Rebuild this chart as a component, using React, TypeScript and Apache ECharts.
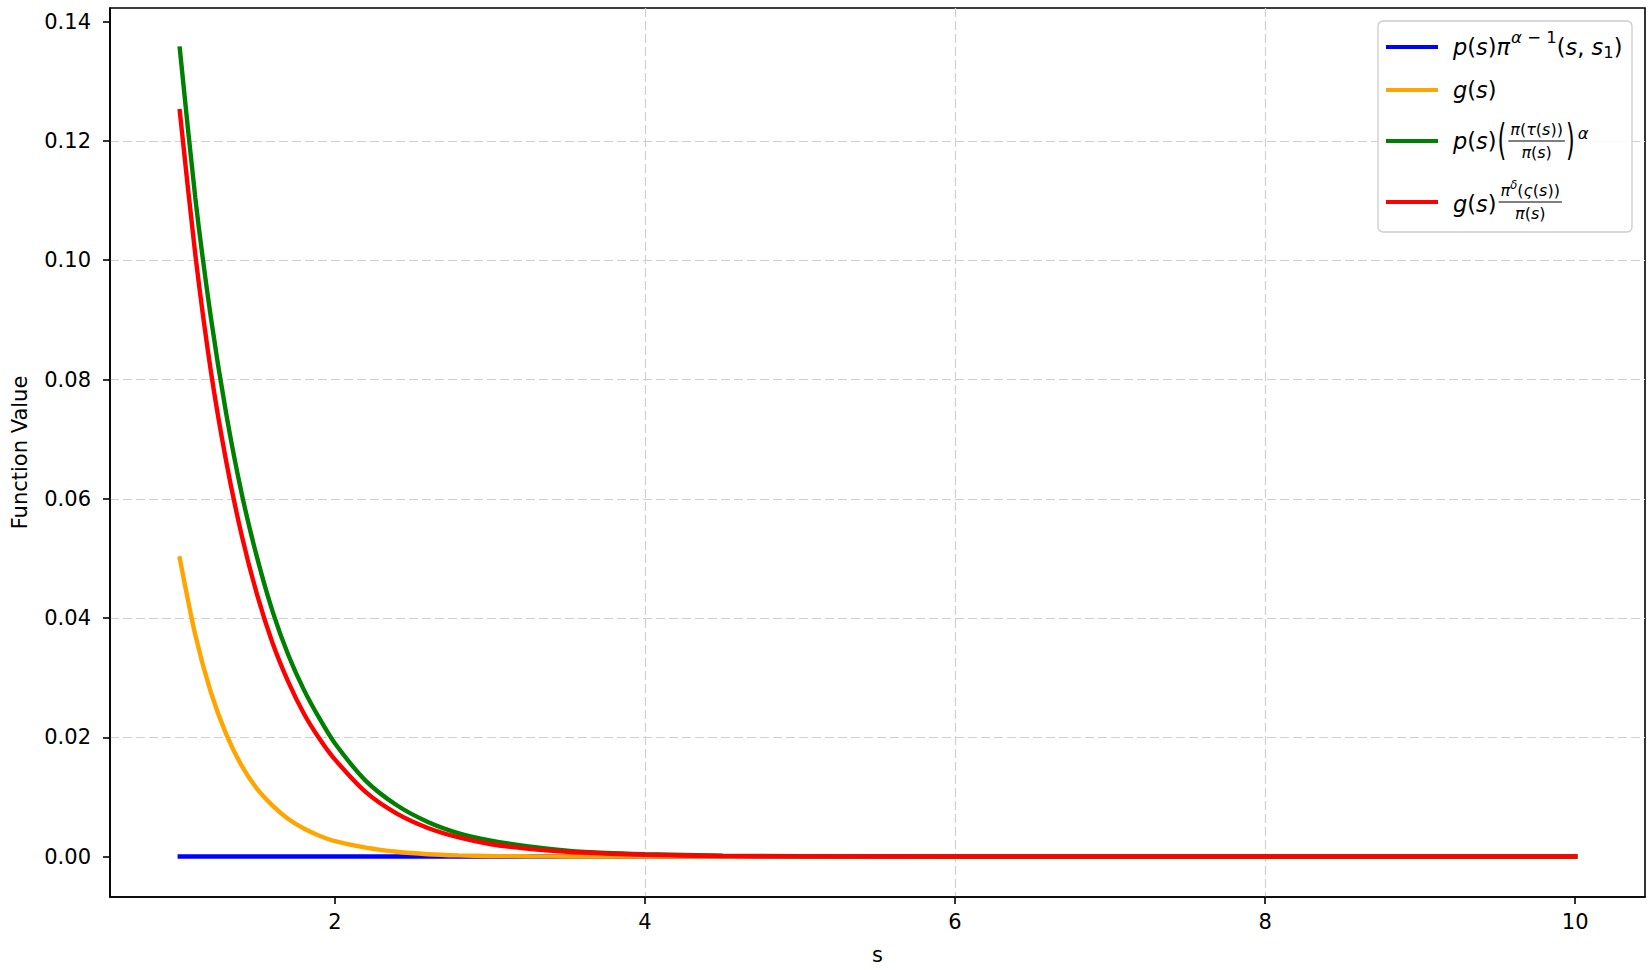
import React, { useEffect, useRef } from 'react';
import * as echarts from 'echarts';

// ---- data ----
const S_VALUES = [1, 1.1, 1.2, 1.3, 1.4, 1.5, 1.6, 1.7, 1.8, 1.9, 2, 2.2, 2.4, 2.6, 2.8, 3, 3.25, 3.5, 3.75, 4, 4.5, 5, 6, 7, 8, 9, 10];
const BLUE_VALUES = [0, 0, 0, 0, 0, 0, 0, 0, 0, 0, 0, 0, 0, 0, 0, 0, 0, 0, 0, 0, 0, 0, 0, 0, 0, 0, 0];
const ORANGE_VALUES = [0.05, 0.0372, 0.0276, 0.0205, 0.0152, 0.0113, 0.0085, 0.0063, 0.0047, 0.0035, 0.0026, 0.0015, 0.0008, 0.0004, 0.0002, 0.0001, 0.00005, 0.00002, 0.00001, 0, 0, 0, 0, 0, 0, 0, 0];
const GREEN_VALUES = [0.1355, 0.1105, 0.0905, 0.0742, 0.0608, 0.05, 0.041, 0.0338, 0.028, 0.0232, 0.019, 0.0127, 0.0086, 0.0058, 0.0039, 0.0027, 0.0017, 0.001, 0.0006, 0.0004, 0.00015, 0.00006, 0.00001, 0, 0, 0, 0];
const RED_VALUES = [0.125, 0.101, 0.0815, 0.0662, 0.0538, 0.0438, 0.0357, 0.0293, 0.024, 0.0198, 0.0163, 0.0108, 0.0072, 0.0048, 0.0032, 0.0021, 0.0013, 0.0008, 0.0005, 0.0003, 0.0001, 0.00004, 0.00001, 0, 0, 0, 0];
const X_TICKS = [2, 4, 6, 8, 10];
const Y_TICKS = [0, 0.02, 0.04, 0.06, 0.08, 0.1, 0.12, 0.14];
const SERIES_NAMES = ['p(s)π^(α−1)(s, s₁)', 'g(s)', 'p(s)(π(τ(s))/π(s))^α', 'g(s)π^δ(ς(s))/π(s)'];
const COLORS = ['#0000ff', '#ffa500', '#008000', '#ff0000'];
const X_NAME = 's';
const Y_NAME = 'Function Value';

const FAMILY = '"DejaVu Sans", sans-serif';
const FS = 21;
const LFS = 22.5;

type Piece = { t: string; s?: number; i?: boolean; dy?: number; dx?: number; sy?: number };

function fontOf(p: Piece) {
  return `${p.i ? 'italic ' : ''}${p.s ?? LFS}px ${FAMILY}`;
}

function runPieces(ctx: CanvasRenderingContext2D, x0: number, yc: number, pieces: Piece[]) {
  let x = x0;
  const els: any[] = [];
  for (const p of pieces) {
    x += p.dx ?? 0;
    ctx.font = fontOf(p);
    const w = ctx.measureText(p.t).width;
    els.push({
      type: 'text',
      x,
      y: yc + (p.dy ?? 0),
      scaleY: p.sy ?? 1,
      z: 101,
      style: { text: p.t, font: fontOf(p), fill: '#000', align: 'left', verticalAlign: 'middle', textAlign: 'left', textVerticalAlign: 'middle' },
    });
    x += w;
  }
  return { els, x };
}

function widthOf(ctx: CanvasRenderingContext2D, pieces: Piece[]) {
  let w = 0;
  for (const p of pieces) {
    ctx.font = fontOf(p);
    w += ctx.measureText(p.t).width + (p.dx ?? 0);
  }
  return w;
}

function fraction(ctx: CanvasRenderingContext2D, x0: number, ybar: number, num: Piece[], den: Piece[], numY: number, denY: number) {
  const wn = widthOf(ctx, num);
  const wd = widthOf(ctx, den);
  const fw = Math.max(wn, wd) + 4;
  const els: any[] = [];
  els.push(...runPieces(ctx, x0 + (fw - wn) / 2, numY, num).els);
  els.push(...runPieces(ctx, x0 + (fw - wd) / 2, denY, den).els);
  els.push({ type: 'line', z: 101, shape: { x1: x0, y1: ybar, x2: x0 + fw, y2: ybar }, style: { stroke: '#000', lineWidth: 1.2 } });
  return { els, x: x0 + fw };
}

function buildLegend(): any[] {
  const canvas = document.createElement('canvas');
  const ctx = canvas.getContext('2d')!;
  const els: any[] = [];
  els.push({
    type: 'rect', z: 100,
    shape: { x: 1378, y: 21, width: 254, height: 211, r: 5 },
    style: { fill: 'rgba(255,255,255,0.85)', stroke: '#cccccc', lineWidth: 1.3 },
  });
  const rowsY = [47, 90, 141, 202];
  COLORS.forEach((c, k) => {
    els.push({ type: 'line', z: 101, shape: { x1: 1386, y1: rowsY[k], x2: 1438, y2: rowsY[k] }, style: { stroke: c, lineWidth: 4.2 } });
  });
  const X0 = 1453;
  const FR = 16;
  // row 1
  els.push(...runPieces(ctx, X0, rowsY[0], [
    { t: 'p', i: true }, { t: '(' }, { t: 's', i: true }, { t: ')' }, { t: 'π', i: true },
    { t: 'α', i: true, s: 16.5, dy: -10, dx: 1 }, { t: ' − 1', s: 16.5, dy: -10 },
    { t: '(' }, { t: 's', i: true }, { t: ', ' }, { t: 's', i: true }, { t: '1', s: 16.5, dy: 5 }, { t: ')' },
  ]).els);
  // row 2
  els.push(...runPieces(ctx, X0, rowsY[1], [{ t: 'g', i: true }, { t: '(' }, { t: 's', i: true }, { t: ')' }]).els);
  // row 3
  const r3 = runPieces(ctx, X0, rowsY[2], [{ t: 'p', i: true }, { t: '(' }, { t: 's', i: true }, { t: ')' }, { t: '(', sy: 1.9, dx: 1, dy: -1 }]);
  els.push(...r3.els);
  const f3 = fraction(ctx, r3.x + 2, rowsY[2], [
    { t: 'π', i: true, s: FR }, { t: '(', s: FR }, { t: 'τ', i: true, s: FR }, { t: '(', s: FR }, { t: 's', i: true, s: FR }, { t: '))', s: FR },
  ], [{ t: 'π', i: true, s: FR }, { t: '(', s: FR }, { t: 's', i: true, s: FR }, { t: ')', s: FR }], rowsY[2] - 12, rowsY[2] + 11);
  els.push(...f3.els);
  els.push(...runPieces(ctx, f3.x + 1, rowsY[2], [{ t: ')', sy: 1.9, dy: -1 }, { t: 'α', i: true, s: 16.5, dy: -8, dx: 3 }]).els);
  // row 4
  const r4 = runPieces(ctx, X0, rowsY[3] + 2, [{ t: 'g', i: true }, { t: '(' }, { t: 's', i: true }, { t: ')' }]);
  els.push(...r4.els);
  const f4 = fraction(ctx, r4.x + 2, rowsY[3], [
    { t: 'π', i: true, s: FR }, { t: 'δ', i: true, s: 11.5, dy: -5 }, { t: '(', s: FR }, { t: 'ς', i: true, s: FR }, { t: '(', s: FR }, { t: 's', i: true, s: FR }, { t: '))', s: FR },
  ], [{ t: 'π', i: true, s: FR }, { t: '(', s: FR }, { t: 's', i: true, s: FR }, { t: ')', s: FR }], rowsY[3] - 12, rowsY[3] + 11);
  els.push(...f4.els);
  return els;
}

export default function App() {
  const ref = useRef<HTMLDivElement>(null);
  useEffect(() => {
    if (!ref.current) return;
    const chart = echarts.init(ref.current, undefined, { renderer: 'svg' });
    const seriesValues = [BLUE_VALUES, ORANGE_VALUES, GREEN_VALUES, RED_VALUES];
    const gridLine = { show: true, showMinLine: false, showMaxLine: false, lineStyle: { color: '#cfcfcf', type: [9, 4], width: 1.2 } };
    const option: any = {
      animation: false,
      backgroundColor: '#ffffff',
      textStyle: { fontFamily: FAMILY },
      grid: { left: 110, right: 7, top: 8, bottom: 73, show: true, borderColor: '#000', borderWidth: 1.6, backgroundColor: 'transparent' },
      xAxis: {
        type: 'value', min: 0.55, max: 10.45, splitNumber: 5,
        name: X_NAME, nameLocation: 'middle', nameGap: 47,
        nameTextStyle: { fontSize: FS, color: '#000', fontFamily: FAMILY },
        axisLine: { show: true, onZero: false, lineStyle: { color: '#000', width: 1.6 } },
        axisTick: { show: true, length: 7, customValues: X_TICKS, lineStyle: { color: '#000', width: 1.6 } },
        axisLabel: { customValues: X_TICKS, fontSize: FS, color: '#000', fontFamily: FAMILY, margin: 14, formatter: (v: number) => String(v) },
        splitLine: gridLine,
      },
      yAxis: {
        type: 'value', min: -0.00678, max: 0.1423, splitNumber: 8,
        name: Y_NAME, nameLocation: 'middle', nameGap: 80, nameRotate: 90,
        nameTextStyle: { fontSize: FS, color: '#000', fontFamily: FAMILY },
        axisLine: { show: true, onZero: false, lineStyle: { color: '#000', width: 1.6 } },
        axisTick: { show: true, length: 7, customValues: Y_TICKS, lineStyle: { color: '#000', width: 1.6 } },
        axisLabel: { customValues: Y_TICKS, fontSize: FS, color: '#000', fontFamily: FAMILY, margin: 19, formatter: (v: number) => v.toFixed(2) },
        splitLine: gridLine,
      },
      series: seriesValues.map((vals, k) => ({
        name: SERIES_NAMES[k],
        type: 'line',
        data: S_VALUES.map((s, i) => [s, vals[i]]),
        showSymbol: false,
        symbol: 'none',
        smooth: 0.25,
        lineStyle: { color: COLORS[k], width: 4.4, cap: 'square' },
        itemStyle: { color: COLORS[k] },
        z: 3 + k,
      })),
      graphic: buildLegend(),
    };
    chart.setOption(option);
    return () => chart.dispose();
  }, []);
  return <div ref={ref} style={{ position: 'absolute', left: 0, top: 0, width: 1652, height: 970 }} />;
}
